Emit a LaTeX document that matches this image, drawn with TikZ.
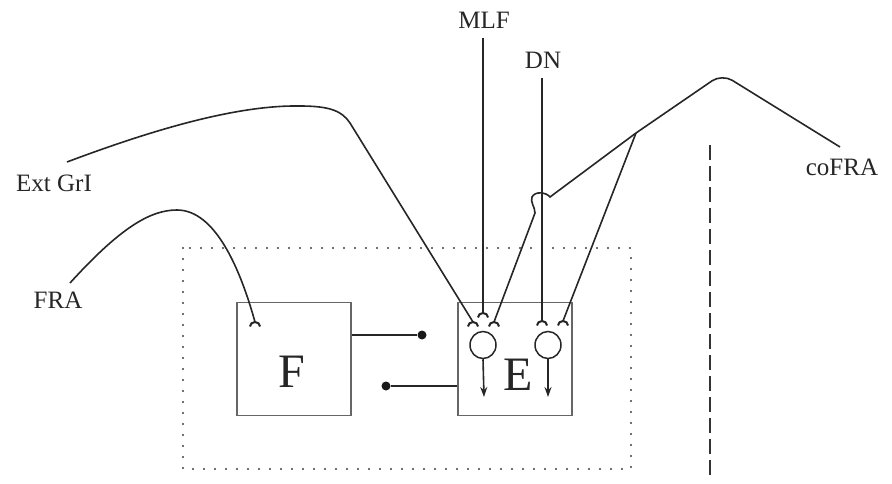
\documentclass[tikz,border=0pt]{standalone}
\usepackage{fontspec}
\setmainfont{Liberation Serif}
\usetikzlibrary{arrows.meta,shapes.geometric}
\begin{document}
\begin{tikzpicture}[x=1pt,y=1pt,
  fib/.style={line width=1.6pt,draw=black!85},
  boxe/.style={draw=black!60,line width=1.1pt,minimum width=114pt,minimum height=113pt,inner sep=0pt},
  lbl/.style={font=\fontsize{25}{30}\selectfont,inner sep=0pt,text=black!85},
  big/.style={font=\fontsize{48}{54}\selectfont,inner sep=0pt,text=black!85},
  cell/.style={draw=black!85,line width=1.5pt,ellipse,minimum width=26pt,minimum height=27pt,inner sep=0pt},
  syn/.pic={\draw[line width=2pt,black!85] (-5,-4.5) arc[start angle=180,end angle=0,x radius=5,y radius=4.5];},
  knob/.style={circle,fill=black!90,minimum size=9pt,inner sep=0pt}]
\useasboundingbox (0,0) rectangle (892,483);
% dotted enclosure
\draw[line width=2.3pt,black!75,dash pattern=on 0pt off 11pt,line cap=round] (183,235) rectangle (631,14);
% dashed midline
\draw[line width=1.6pt,black!80,dash pattern=on 15pt off 6pt] (710,338) -- (710,4);
% boxes
\node[boxe] (F) at (294,124) {};
\node[boxe] (E) at (515,124) {};
\node[big] (Fl) at (292,111) {F};
\node[big] (El) at (518,108) {E};
% cells
\node[cell] (c1) at (483,138) {};
\node[cell] (c2) at (548,138) {};
\coordinate (a1) at (484,86);
\coordinate (a2) at (548,86);
\draw[fib,-{Stealth[length=10pt,width=7pt]}] (c1.south) -- (a1);
\draw[fib,-{Stealth[length=10pt,width=7pt]}] (c2.south) -- (a2);
% knobs
\node[knob] (k1) at (422,148) {};
\node[knob] (k2) at (386,97) {};
\draw[fib] (F.east |- k1) -- (k1);
\draw[fib] (E.west |- k2) -- (k2);
% synaptic terminals
\coordinate (tF) at (255,161);
\coordinate (t1) at (473,161);
\coordinate (t2) at (483,170);
\coordinate (t3) at (494,161);
\coordinate (t4) at (542,162);
\coordinate (t5) at (563,162);
\foreach \t in {tF,t1,t2,t3,t4,t5} {\pic at (\t) {syn};}
% labels
\node[lbl] (mlf) at (484,463) {MLF};
\node[lbl] (dn) at (543,423) {DN};
\node[lbl] (ext) at (54,300) {Ext GrI};
\node[lbl] (fra) at (58,183) {FRA};
\node[lbl] (cofra) at (842,316) {coFRA};
% descending lines
\coordinate (m0) at (483,445);
\coordinate (d0) at (542,405);
\draw[fib] (m0) -- (t2);
\draw[fib] (d0) -- (t4);
% Ext GrI fibre
\coordinate (e0) at (67,321);
\draw[fib] (e0) .. controls (160,356) and (240,378) .. (300,377)
  .. controls (330,377) and (342,372) .. (350,360) -- (t1);
% FRA fibre
\coordinate (f0) at (70,200);
\draw[fib] (f0) .. controls (120,255) and (150,273) .. (177,273)
  .. controls (215,273) and (240,215) .. (tF);
% coFRA fibre
\coordinate (g0) at (840,336);
\coordinate (br) at (636,350);
\draw[fib,rounded corners=12pt] (g0) -- (722,409) -- (br);
\draw[fib] (br) -- (550,286) .. controls (546,291) and (535,292) .. (532,286)
  .. controls (530,281) and (535,276) .. (535,270) -- (t3);
\draw[fib] (br) -- (t5);
\end{tikzpicture}
\end{document}
